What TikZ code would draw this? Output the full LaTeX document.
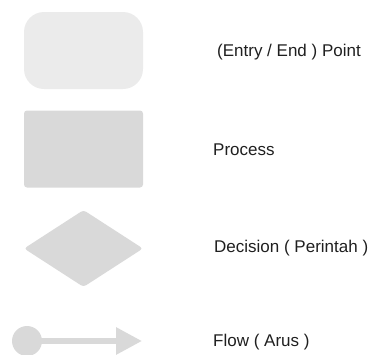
\documentclass[tikz,border=0pt]{standalone}
\usepackage{fontspec}
\setmainfont{Liberation Sans}
\usetikzlibrary{shapes.geometric, arrows.meta, positioning}

\definecolor{shapelight}{HTML}{EBEBEB}
\definecolor{shapegray}{HTML}{D9D9D9}

\begin{document}
\begin{tikzpicture}[
  x=1pt, y=-1pt,
  every node/.style = {font=\fontsize{17}{20}\selectfont, text=black!88},
  symbol/.style = {minimum width=119pt, minimum height=77pt, inner sep=0pt},
  label/.style = {anchor=west, inner sep=0pt},
  flowarr/.style = {-{Triangle[length=26pt, width=26pt]}, line width=6pt, shapegray},
]
\useasboundingbox (0,0) rectangle (370,354);

%% ── Symbols (left side) ──────────────────────────────────────────────────────
\node[symbol, fill=shapelight, rounded corners=20pt] (entry) at (83.5, 50.5) {};
\node[symbol, fill=shapegray, rounded corners=3pt] (process) at (83.5, 149) {};
\node[symbol, diamond, fill=shapegray, rounded corners=3pt] (decision) at (83.5, 248.5) {};
\node[circle, fill=shapegray, minimum size=30pt, inner sep=0pt] (flowdot) at (27, 341) {};
\coordinate (flowtip) at (142, 341);

%% ── Flow arrow ───────────────────────────────────────────────────────────────
\draw[flowarr] (flowdot.center) -- (flowtip);

%% ── Labels (right side) ──────────────────────────────────────────────────────
\node[label] (entrytext) at (217, 52) {(Entry / End ) Point};
\node[label] (processtext) at (213, 150) {Process};
\node[label] (decisiontext) at (214, 248) {Decision ( Perintah )};
\node[label] (flowtext) at (213, 342) {Flow ( Arus )};

\end{tikzpicture}
\end{document}
